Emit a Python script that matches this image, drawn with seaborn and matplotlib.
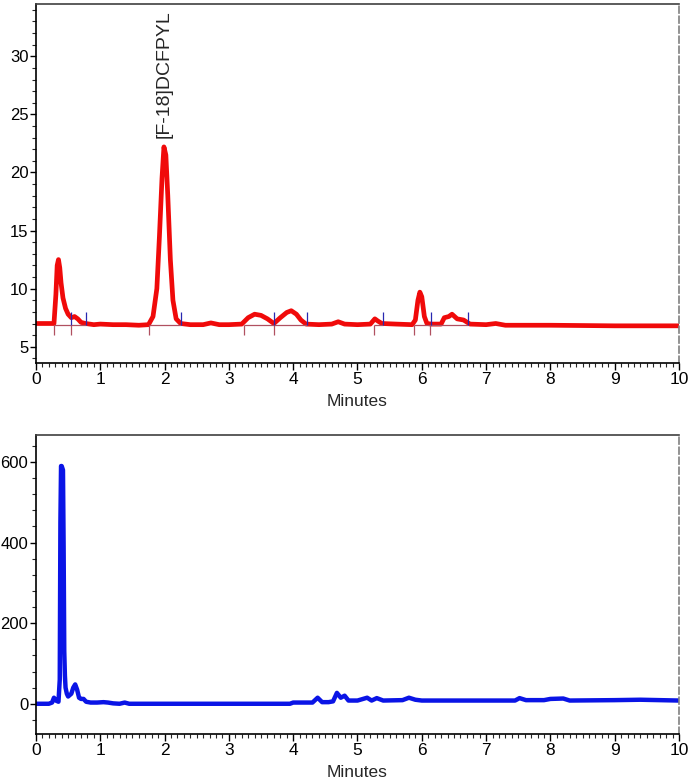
import numpy as np
import pandas as pd
import seaborn as sns
import matplotlib
matplotlib.use('Agg')
import matplotlib.pyplot as plt
from matplotlib.ticker import MultipleLocator

sns.set_theme(style="ticks")
plt.rcParams['font.family'] = ['Liberation Sans', 'DejaVu Sans']

# === Data ===
# top: radio trace (red)
top_time = [0.0, 0.1, 0.2, 0.28, 0.31, 0.33, 0.35, 0.37, 0.39, 0.42, 0.46, 0.5, 0.55,
            0.6, 0.65, 0.7, 0.77, 0.9, 1.0, 1.2, 1.4, 1.6, 1.75, 1.82, 1.88, 1.92,
            1.96, 1.99, 2.02, 2.05, 2.09, 2.13, 2.18, 2.25, 2.4, 2.6, 2.72, 2.85, 3.0,
            3.2, 3.3, 3.4, 3.5, 3.6, 3.7, 3.8, 3.9, 3.97, 4.05, 4.12, 4.2, 4.4, 4.6,
            4.7, 4.8, 5.0, 5.2, 5.27, 5.32, 5.38, 5.6, 5.85, 5.9, 5.94, 5.97, 6.0,
            6.04, 6.08, 6.15, 6.3, 6.35, 6.42, 6.47, 6.55, 6.65, 6.75, 7.0, 7.15,
            7.3, 8.0, 9.0, 10.0]
top_signal = [7.0, 7.0, 7.0, 7.0, 9.5, 12.0, 12.5, 11.8, 10.5, 9.2, 8.3, 7.8, 7.5,
              7.6, 7.4, 7.1, 7.0, 6.9, 6.95, 6.9, 6.9, 6.85, 6.9, 7.6, 10.0, 14.5,
              19.5, 22.2, 21.5, 18.0, 12.5, 9.0, 7.4, 7.0, 6.9, 6.9, 7.05, 6.9, 6.9,
              6.95, 7.5, 7.8, 7.7, 7.4, 7.0, 7.5, 7.95, 8.1, 7.8, 7.3, 6.95, 6.9, 6.95,
              7.15, 6.95, 6.9, 6.95, 7.4, 7.2, 7.0, 6.95, 6.9, 7.3, 9.0, 9.7, 9.3,
              7.6, 7.0, 6.95, 6.95, 7.5, 7.6, 7.8, 7.4, 7.3, 6.95, 6.9, 7.0,
              6.85, 6.85, 6.8, 6.8]

# integration markers (start / end of each peak)
peak_start = [0.28, 0.55, 1.76, 3.23, 3.70, 5.25, 5.88, 6.12]
peak_end = [0.55, 0.78, 2.25, 3.70, 4.21, 5.39, 6.14, 6.72]
baseline_level = 6.9
peak_label = "[F-18]DCFPYL"
peak_label_time = 2.0

# bottom: UV trace (blue)
bot_time = [0, 0.2, 0.25, 0.28, 0.31, 0.35, 0.37, 0.38, 0.39, 0.40, 0.42, 0.43, 0.44,
            0.45, 0.46, 0.48, 0.5, 0.55, 0.58, 0.61, 0.64, 0.67, 0.7, 0.74, 0.78, 0.85,
            0.95, 1.05, 1.12, 1.2, 1.3, 1.38, 1.45, 2.0, 3.0, 3.95, 4.0, 4.3, 4.38,
            4.45, 4.55, 4.62, 4.68, 4.74, 4.8, 4.86, 5.0, 5.15, 5.22, 5.3, 5.4, 5.7,
            5.8, 5.9, 6.0, 7.0, 7.45, 7.52, 7.62, 7.9, 8.0, 8.2, 8.3, 9.0, 9.4, 10.0]
bot_signal = [0, 0, 3, 15, 8, 5, 60, 450, 590, 590, 580, 390, 130,
              70, 40, 25, 18, 25, 40, 48, 35, 15, 12, 12, 5, 3,
              3, 4, 3, 1, 0, 3, 0, 0, 0, 0, 3, 3, 15,
              4, 4, 6, 27, 15, 20, 8, 8, 15, 8, 14, 8, 9,
              15, 10, 8, 8, 8, 14, 9, 9, 12, 13, 8, 9, 10, 8]

top_df = pd.DataFrame({'minutes': top_time, 'signal': top_signal})
bot_df = pd.DataFrame({'minutes': bot_time, 'signal': bot_signal})

# === Plot ===
fig = plt.figure(figsize=(6.89, 7.81), dpi=100)
ax1 = fig.add_axes([0.0522, 0.5352, 0.9333, 0.4597])
ax2 = fig.add_axes([0.0522, 0.0602, 0.9333, 0.3828])

sns.lineplot(data=top_df, x='minutes', y='signal', ax=ax1, color='#f00a0a', lw=3.4)
base = np.full(len(peak_start), baseline_level)
ax1.hlines(base, peak_start, peak_end, color='#b05060', lw=0.9, zorder=3)
ax1.vlines(peak_start, base - 0.9, base, color='#b05060', lw=0.9, zorder=3)
ax1.vlines(peak_end, base, base + 1.1, color='#2828b0', lw=0.9, zorder=3)
ax1.text(peak_label_time, 23.0, peak_label, rotation=90, ha='center', va='bottom', fontsize=14)
ax1.set_ylim(3.6, 34.5)
ax1.yaxis.set_minor_locator(MultipleLocator(1))
ax1.set_yticks([5, 10, 15, 20, 25, 30])

sns.lineplot(data=bot_df, x='minutes', y='signal', ax=ax2, color='#0a14e6', lw=3.2)
ax2.set_ylim(-75, 667)
ax2.set_yticks([0, 200, 400, 600])
ax2.yaxis.set_minor_locator(MultipleLocator(40))

for ax in (ax1, ax2):
    ax.set_xlim(0, 10)
    ax.xaxis.set_major_locator(MultipleLocator(1))
    ax.xaxis.set_minor_locator(MultipleLocator(0.1))
    ax.set_xlabel("Minutes", fontsize=12.5, labelpad=5)
    ax.set_ylabel("")
    ax.tick_params(axis='both', which='major', direction='out', length=5, width=1,
                   pad=1.5, colors='black')
    ax.tick_params(axis='x', which='major', labelsize=12.5)
    ax.tick_params(axis='y', which='major', labelsize=12, length=4.5, pad=1)
    ax.tick_params(axis='both', which='minor', direction='out', length=3, width=0.8)
    ax.spines['left'].set_color('black')
    ax.spines['bottom'].set_color('black')
    ax.spines['left'].set_linewidth(1.2)
    ax.spines['bottom'].set_linewidth(1.2)
    ax.spines['top'].set_color('#404040')
    ax.spines['top'].set_linewidth(1.2)
    ax.spines['right'].set_color('#808080')
    ax.spines['right'].set_linestyle((0, (4, 2)))
    ax.spines['right'].set_linewidth(1.2)
    ax.grid(False)

fig.savefig('out.png', dpi=100)
